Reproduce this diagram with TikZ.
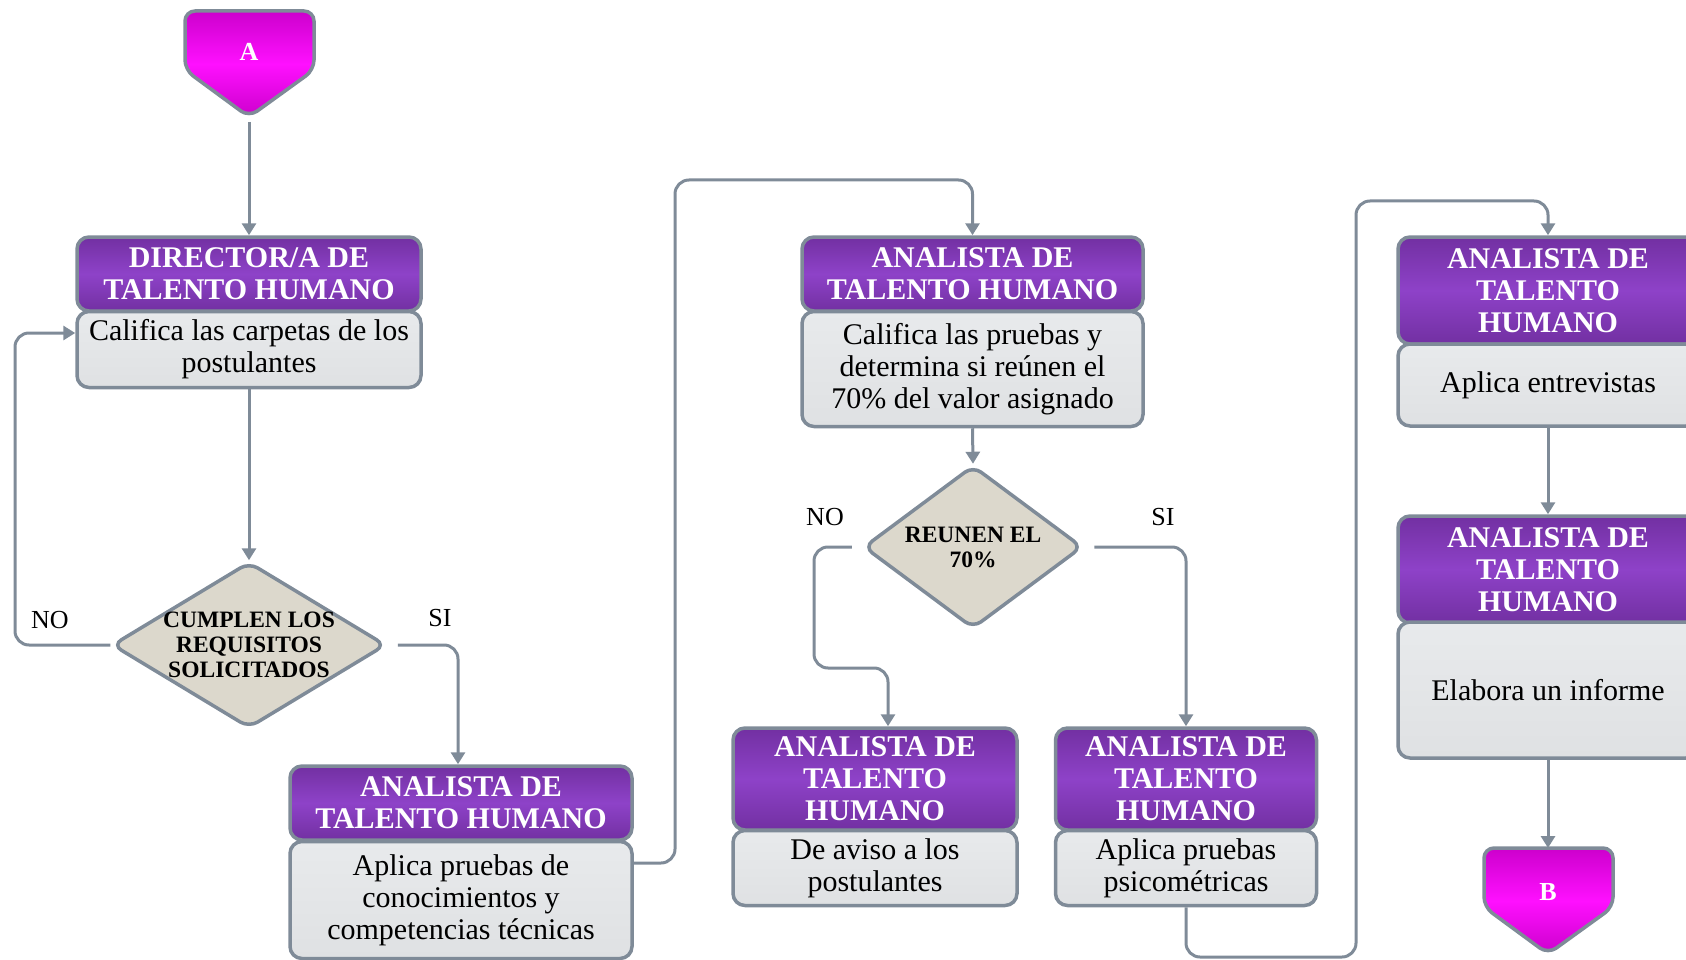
\documentclass[tikz,border=0pt]{standalone}
\usepackage{fontspec}
\setmainfont{Liberation Serif}
\usetikzlibrary{shapes.geometric,arrows.meta,calc}
\definecolor{bordc}{HTML}{7F8B98}
\definecolor{purpD}{HTML}{7230A2}
\definecolor{purpL}{HTML}{8E42C8}
\definecolor{grayT}{HTML}{E8EAEC}
\definecolor{grayB}{HTML}{DFE1E3}
\definecolor{beige}{HTML}{DCD8CC}
\definecolor{magD}{HTML}{CC00CC}
\definecolor{magL}{HTML}{FF10FF}
\begin{document}
\begin{tikzpicture}[x=1pt,y=-1pt,
  hdr/.style={draw=bordc, line width=3.5pt, rounded corners=12pt,
    top color=purpD, bottom color=purpD, middle color=purpL,
    text=white, font=\fontsize{30}{32}\selectfont\bfseries, align=center, inner sep=0pt},
  bdy/.style={draw=bordc, line width=3.5pt, rounded corners=12pt,
    top color=grayT, bottom color=grayB,
    font=\fontsize{30}{32}\selectfont, align=center, inner sep=0pt},
  dec/.style={diamond, draw=bordc, line width=3.5pt, rounded corners=10pt, fill=beige, inner sep=0pt},
  dectext/.style={font=\fontsize{23.5}{25}\selectfont\bfseries, align=center, inner sep=0pt},
  pent/.style={draw=bordc, line width=3.5pt, rounded corners=10pt,
    top color=magD, bottom color=magD, middle color=magL},
  pentlbl/.style={text=white, font=\fontsize{26}{28}\selectfont\bfseries, inner sep=0pt},
  conn/.style={draw=bordc, line width=3pt, rounded corners=14pt,
    -{Triangle[length=12pt,width=14pt]}},
  lbl/.style={font=\fontsize{26}{28}\selectfont, inner sep=0pt}
]
\useasboundingbox (0,0) rectangle (1686,960);

% connector A
\path[pent] (185,11) -- (314,11) -- (314,70) -- (249,117) -- (185,70) -- cycle;
\node[pentlbl] (A) at (249,52) {A};
\coordinate (Atip) at (249,122);

% Director box
\node[hdr, minimum width=344pt, minimum height=74pt] (h1) at (249,274) {DIRECTOR/A DE\\TALENTO HUMANO};
\node[bdy, minimum width=344pt, minimum height=76pt] (b1) at (249,349.5) {Califica las carpetas de los\\postulantes};

% Decision 1
\node[dec, minimum width=274pt, minimum height=166pt,
  label={[dectext]center:CUMPLEN LOS\\REQUISITOS\\SOLICITADOS}] (d1) at (249,645) {};

% Analista 1
\node[hdr, minimum width=342pt, minimum height=74pt] (h2) at (461,803) {ANALISTA DE\\TALENTO HUMANO};
\node[bdy, minimum width=342pt, minimum height=117pt] (b2) at (461,900) {Aplica pruebas de\\conocimientos y\\competencias técnicas};

% Analista 2
\node[hdr, minimum width=341pt, minimum height=74pt] (h3) at (972.5,274) {ANALISTA DE\\TALENTO HUMANO};
\node[bdy, minimum width=341pt, minimum height=115pt] (b3) at (972.5,369) {Califica las pruebas y\\determina si reúnen el\\70\% del valor asignado};

% Decision 2
\node[dec, minimum width=219pt, minimum height=163pt,
  label={[dectext]center:REUNEN EL\\70\%}] (d2) at (973,547) {};

% Analista 3 (NO)
\node[hdr, minimum width=284pt, minimum height=102pt] (h4) at (875,779) {ANALISTA DE\\TALENTO\\HUMANO};
\node[bdy, minimum width=284pt, minimum height=75pt] (b4) at (875,868) {De aviso a los\\postulantes};

% Analista 4 (SI)
\node[hdr, minimum width=261pt, minimum height=102pt] (h5) at (1186,779) {ANALISTA DE\\TALENTO\\HUMANO};
\node[bdy, minimum width=261pt, minimum height=75pt] (b5) at (1186,868) {Aplica pruebas\\psicométricas};

% Analista 5
\node[hdr, minimum width=300pt, minimum height=107pt] (h6) at (1548,290.5) {ANALISTA DE\\TALENTO\\HUMANO};
\node[bdy, minimum width=300pt, minimum height=82pt] (b6) at (1548,385) {Aplica entrevistas};

% Analista 6
\node[hdr, minimum width=300pt, minimum height=107pt] (h7) at (1548,569.5) {ANALISTA DE\\TALENTO\\HUMANO};
\node[bdy, minimum width=300pt, minimum height=136pt] (b7) at (1548,690) {Elabora un informe};

% connector B
\path[pent] (1484,848) -- (1613,848) -- (1613,907) -- (1548,954) -- (1484,907) -- cycle;
\node[pentlbl] (B) at (1548,892) {B};

% labels
\node[lbl] (no1) at (50,620) {NO};
\node[lbl] (si1) at (440,618) {SI};
\node[lbl] (no2) at (825,517) {NO};
\node[lbl] (si2) at (1163,517) {SI};

% helper coordinates
\coordinate (n1) at (15,333);
\coordinate (c1) at (675,180);
\coordinate (n2) at (814,668);
\coordinate (c2) at (1356,957);
\coordinate (c3) at (1356,201);

% connectors
\draw[conn] (Atip) -- (h1.north);
\draw[conn] (b1.south) -- (d1.north);
\draw[conn] (d1.west) -| (n1) -- (b1.west |- n1);
\draw[conn] ($(d1.east)+(10,0)$) -| ($(h2.north)+(-3,0)$);
\draw[conn] ($(b2.east)+(0,-37)$) -| (c1) -| (h3.north);
\draw[conn] (b3.south) -- (d2.north);
\draw[conn] ($(d2.west)+(-10,0)$) -| (n2) -| ($(h4.north)+(13,0)$);
\draw[conn] ($(d2.east)+(10,0)$) -| (h5.north);
\draw[conn] (b5.south) |- (c2) -- (c3) -| (h6.north);
\draw[conn] (b6.south) -- (h7.north);
\draw[conn] (b7.south) -- (B.north |- 0,848);
\end{tikzpicture}
\end{document}
